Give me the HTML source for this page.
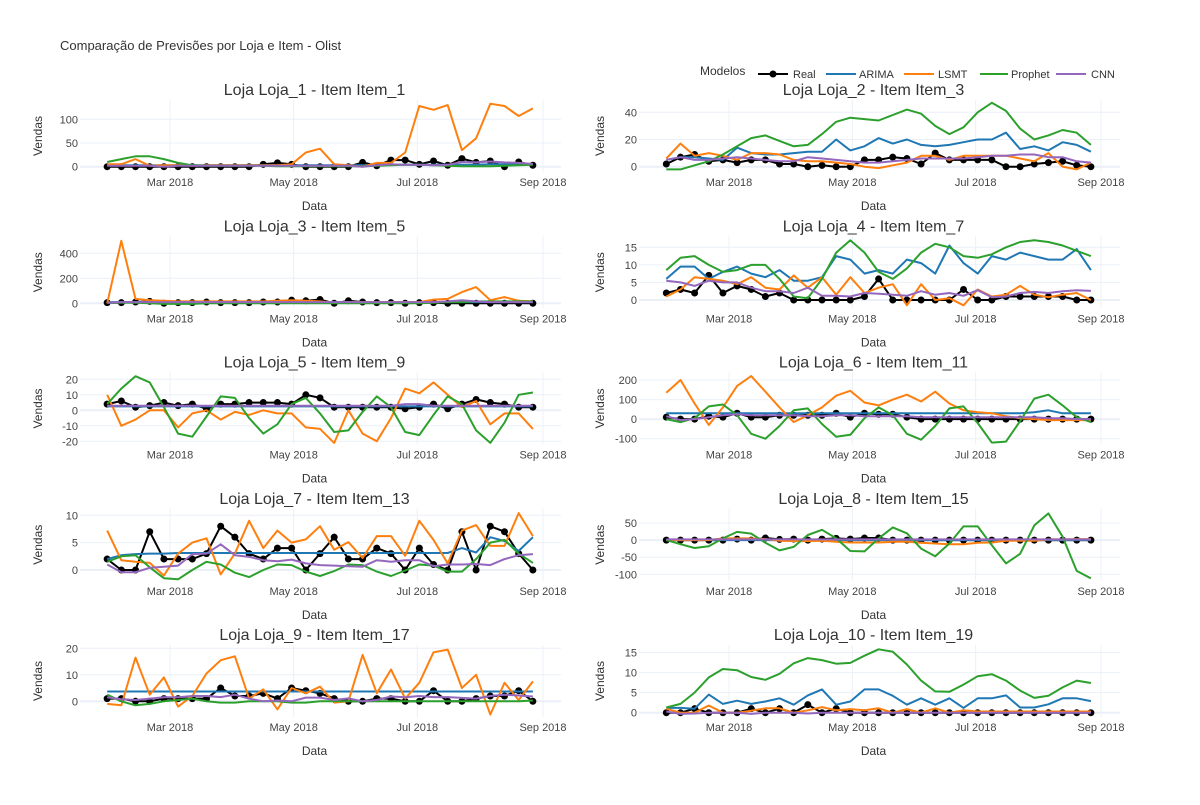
<!DOCTYPE html>
<html><head><meta charset="utf-8">
<style>
body{margin:0;background:#fff;}
svg text{font-family:"Liberation Sans",Arial,sans-serif;}
</style></head>
<body>
<svg id="chart" width="1200" height="800" viewBox="0 0 1200 800" xmlns="http://www.w3.org/2000/svg">
<rect width="1200" height="800" fill="#fff"/>
<text x="60" y="50" font-size="13" fill="#333">Comparação de Previsões por Loja e Item - Olist</text>
<g font-size="11" fill="#333">
<text x="700" y="75" font-size="12">Modelos</text>
<g><line x1="758" y1="74" x2="788" y2="74" stroke="#000" stroke-width="2"/><circle cx="773" cy="74" r="3.5" fill="#000"/><text x="793" y="78">Real</text></g>
<g><line x1="826" y1="74" x2="856" y2="74" stroke="#1f77b4" stroke-width="2"/><text x="859" y="78">ARIMA</text></g>
<g><line x1="904" y1="74" x2="934" y2="74" stroke="#ff7f0e" stroke-width="2"/><text x="938" y="78">LSMT</text></g>
<g><line x1="980" y1="74" x2="1008" y2="74" stroke="#2ca02c" stroke-width="2"/><text x="1011" y="78">Prophet</text></g>
<g><line x1="1056" y1="74" x2="1086" y2="74" stroke="#9467bd" stroke-width="2"/><text x="1091" y="78">CNN</text></g>
</g>
</svg>
<script>
const titles = ["Loja Loja_1 - Item Item_1","Loja Loja_2 - Item Item_3","Loja Loja_3 - Item Item_5","Loja Loja_4 - Item Item_7","Loja Loja_5 - Item Item_9","Loja Loja_6 - Item Item_11","Loja Loja_7 - Item Item_13","Loja Loja_8 - Item Item_15","Loja Loja_9 - Item Item_17","Loja Loja_10 - Item Item_19"];
const seriesNames = ["Real","ARIMA","LSMT","Prophet","CNN"];
const xTickLabels = ["Mar 2018","May 2018","Jul 2018","Sep 2018"];
const yTicks = [[0,50,100],[0,20,40],[0,200,400],[0,5,10,15],[-20,-10,0,10,20],[-100,0,100,200],[0,5,10],[-100,-50,0,50],[0,10,20],[0,5,10,15]];
const c31 = v => Array(31).fill(v);
const real = [
[0,0,0,0,0,0,0,0,0,0,0,5,8,5,0,0,0,0,9,2,14,14,5,12,3,17,9,12,0,10,3],
[2,7,9,4,5,3,5,5,2,2,0,1,0,0,5,5,7,6,2,10,5,5,5,5,0,0,2,3,4,1,0],
[5,5,10,15,0,5,5,10,5,5,5,10,10,25,20,30,0,20,10,5,5,0,5,5,0,0,0,0,0,0,0],
[2,3,2,7,2,4,3,1,2,0,0,0,0,0,1,6,0,0,0,0,0,3,0,0,1,1,1,1,1,0,0],
[4,6,2,3,5,3,4,1,4,4,5,5,5,4,10,8,2,2,2,2,2,1,2,4,1,4,7,5,4,2,2],
[10,0,0,15,10,30,10,10,20,20,20,20,30,10,30,25,25,10,0,0,0,0,0,0,0,0,0,0,0,0,0],
[2,0,0,7,2,2,2,3,8,6,3,2,4,4,0,3,6,2,2,4,3,0,4,1,0,7,0,8,7,3,0],
[0,0,0,0,0,3,0,6,2,3,0,3,5,3,6,6,0,0,0,0,0,0,0,0,0,0,0,0,0,0,0],
[1,1,0,0,1,1,1,1,5,2,2,3,1,5,4,3,1,0,0,1,1,0,0,4,0,0,1,2,2,4,0],
[0,0,1,0,0,0,1,0,1,0,2,0,1,0,0,0,0,0,0,0,0,0,0,0,0,0,0,0,0,0,0]];
const arima = [
[3,3,3,3,3,3,3,3,3,3,3,3,3,3,3,3,3,3,3,3,4,4,4,4,4,4,4,5,5,5,5],
[5,7,7,6,5,14,10,9,9,10,11,11,20,12,15,21,17,20,16,15,16,18,20,20,25,13,15,12,18,16,11],
c31(10),
[6,9.5,9.5,6,8,9.5,7.5,6.5,8.5,5.5,5.5,6.5,12.5,11.5,7.5,8.5,7.5,11.5,10.5,7.5,15.5,10.5,7.5,12.5,11.5,13.5,12.5,11.5,11.5,14.5,8.5],
c31(2.5),
[30,30,30,30,30,30,30,30,30,30,30,30,30,30,30,30,30,30,30,30,30,30,30,30,30,30,35,45,30,30,30],
[2,2.7,2.9,3,3,3.1,3.1,3.1,3.1,3.1,3.1,3.1,3.1,3.1,3.1,3.1,3.1,3.1,3.1,3.1,3.1,3.1,3.1,3.1,3.1,4,3.2,6,5.3,3.5,6],
c31(0),
c31(3.7),
[1.2,1.2,1,4.5,2.2,3,2.2,2.8,3.6,2,4.3,5.8,2,2.8,5.8,5.8,4.2,2,3.6,2,3.6,1.2,3.6,3.6,4.3,1.3,1.3,2.1,3.6,3.6,2.9]];
const lsmt = [
[5,5,16,2,3,3,2,3,3,3,3,3,3,5,30,38,5,3,0,8,8,30,128,120,130,35,60,133,128,107,123],
[6,17,8,10,8,5,10,10,9,5,4,4,3,2,0,-1,1,3,8,8,5,8,8,8,8,6,4,10,0,-2,3],
[0,500,35,25,20,15,15,15,15,15,15,15,20,25,20,15,5,10,10,10,10,10,10,30,35,90,130,25,50,20,15],
[1,3,6.5,6,5.5,4.5,6.5,3.5,3,7,3.5,6.5,1.5,6.5,2,3.5,4.5,-1.5,4.5,0,0.5,-1.5,3,1,1.5,4,1.5,0.8,1.5,2,0],
[10,-10,-6,0,0,-11,-2,0,-6,-1,-3,0,-2,-2,-11,-12,-21,0,-15,-20,-5,14,11,18,10,2,6,-9,-2,-2,-12],
[135,200,80,-30,60,170,220,140,60,-15,20,60,120,145,85,70,100,125,90,140,80,45,35,30,15,5,0,-5,-5,-5,-5],
[7.2,1.8,1.5,1.3,-1,3,5,5.8,-0.8,3,9,4,7.2,5,5.6,8,3.7,5.1,2.2,6.2,6.2,2.6,9,5.5,1.2,7.2,8.2,4.4,4.4,10.4,6.2],
[0,0,0,0,5,5,5,3,-2,-3,-3,-2,-5,-7,-7,-7,-5,-5,-8,-10,-12,-12,-8,-7,-2,-2,-2,2,2,3,3],
[-1,-1.5,16.5,2.5,9,-2,2,10.5,15.5,17,1,4.5,-3,5,3,5.5,-0.5,0,17.5,3,12,1,7,18.5,19.5,5,10,-5,7,0.5,7.5],
[1,0,0,1.8,0,0,0.5,1.1,1.1,0,0.6,1.4,0.6,0.9,0.6,1.1,0,0.9,0,1.1,0,0.6,0.3,0.3,0.3,0.3,0.3,0.3,0.3,0.3,0.3]];
const prophet = [
[10,16,22,22,16,8,3,2,2,2,2,2,1,1,1,1,1,1,1,2,3,4,4,3,2,1,1,1,2,3,4],
[-2,-2,1,4,9,15,21,23,19,15,16,24,33,36,35,34,38,42,39,30,24,29,40,47,41,28,20,23,27,25,16],
[5,5,5,0,-5,-5,-5,0,0,0,0,0,0,0,0,0,0,0,0,0,0,0,0,5,10,10,15,15,15,15,15],
[8.5,12,12.5,10,8,8.5,10,10,6,1,0.5,6,13.5,17,13.5,8,6,9,13.5,16,15,12.5,12,13,15,16.5,17,16.5,15.5,14,12.5],
[4,14,22,18,2,-15,-17,-4,9,8,-5,-15,-9,4,8,-2,-14,-13,-1,9,2,-14,-16,-3,9,4,-13,-21,-8,10,11.5],
[0,-15,5,65,75,20,-75,-100,-35,45,55,-25,-90,-80,5,60,20,-75,-105,-35,55,65,-20,-120,-115,-10,105,125,70,10,-15],
[1.5,2.5,2.7,0.5,-1.5,-1.7,0,1.5,1,-0.5,-1.3,0,1,0.9,-0.3,-1.1,-0.2,1,0.9,-0.3,-1.1,-0.1,1,0.8,-0.3,-0.3,2,5,5.5,3,1.3],
[0,-12,-23,-18,5,24,19,-8,-30,-20,15,30,5,-32,-33,5,37,20,-25,-47,-10,40,40,-15,-68,-40,43,78,10,-90,-112],
[2.5,0,-1.5,-1,0,0.5,1,0,-0.5,-0.5,0,0,0,-0.5,-0.5,0,0,0,0,0,0,0,0,0,0,0,0,0,0,0,0.3],
[1.3,2.2,5,8.8,10.9,10.6,8.9,8.2,9.7,12.3,13.6,13.1,12.2,12.4,14.2,15.8,15.2,12,8,5.3,5.2,7,9.1,9.6,8,5.5,3.7,4.2,6.3,8,7.4]];
const cnn = [
[2,2,2,2,0,2,2,2,2,2,2,2,2,2,2,2,2,2,0,3,5,4,4,3,4,10,9,11,9,8,6],
[5,7,5,5,6,7,6,5,4,4,7,6,5,4,3,3,4,5,6,6,6,6,7,8,8,9,9,7,7,4,3],
[5,10,10,10,10,10,10,10,10,10,10,10,10,10,10,10,10,10,10,10,10,10,10,10,15,25,15,10,10,10,10],
[5.5,5,4,5.5,5,5,3.5,2.5,2.5,2,3.5,1.2,1.2,1,2,1.8,1.5,1.2,2.5,1.5,2,1.2,2.8,0.8,1,2,2.3,2,2.5,2.8,2.6],
[3,3,3,3,3,3,3,3,3,3,3,3,3,3,3,3,3,3,3,3,3,4,4,3,3,3,3,3,3,3,3],
[15,-5,0,10,20,25,20,20,20,20,15,15,20,20,15,15,15,15,10,10,10,10,10,10,10,10,10,5,5,0,0],
[1,-0.4,-0.4,0.4,0.6,0.8,2.9,3,4.7,2.7,2.4,1.8,1.6,1.9,1.2,0.9,0.8,0.7,0.6,1.8,1.5,1.8,1.8,0.7,1,1,1.1,0.9,2,2.7,2.9],
c31(2),
[1.5,0.8,0.5,1,1.5,1.5,2,2,1.6,2.5,1,0,0.3,0,1.4,1.4,0.5,1.1,0,0.5,1.8,1.5,2,1.6,1.6,1.3,1,2,2.5,2.2,1.8],
[0.3,-0.3,-0.2,0,0,0,-0.3,0,0,0,-0.2,0,0,0,0,0,0,0,0,0,0,0,0,0,0,0,0,0,0,0,0]];

const NS="http://www.w3.org/2000/svg";
const svg=document.getElementById('chart');
const colors=["#000","#1f77b4","#ff7f0e","#2ca02c","#9467bd"];
const yCal=[[0,166.7,100,119.3],[0,166.7,40,112.3],[0,303.3,400,253.3],[0,300,15,247.3],[20,379.3,-20,441.3],[200,380,-100,438.7],[10,515.3,0,570],[50,523,-100,574.3],[20,648.3,0,701.3],[15,652.5,0,712.7]];
const DAY=86400000;
const mar1=Date.UTC(2018,2,1), sep1=Date.UTC(2018,8,1);
const tickDates=[Date.UTC(2018,2,1),Date.UTC(2018,4,1),Date.UTC(2018,6,1),Date.UTC(2018,8,1)];
const start=Date.UTC(2018,0,29);
const dates=[];for(let i=0;i<31;i++)dates.push(start+i*7*DAY);
function mk(tag,attrs,parent){const e=document.createElementNS(NS,tag);for(const k in attrs)e.setAttribute(k,attrs[k]);(parent||svg).appendChild(e);return e;}
for(let p=0;p<10;p++){
  const row=Math.floor(p/2), col=p%2;
  const left=col?639:80, right=col?1120:561;
  const top=100+136.25*row, bot=top+72;
  const mx=col?729:170, sx=col?1101:543;
  const xs=t=>mx+(t-mar1)/(sep1-mar1)*(sx-mx);
  const c=yCal[p];
  const ys=v=>c[1]+(v-c[0])/(c[2]-c[0])*(c[3]-c[1]);
  const g=mk('g',{});
  
  
  const cid='clip'+p;
  const cp=mk('clipPath',{id:cid},g);mk('rect',{x:left,y:top,width:right-left,height:bot-top},cp);
  tickDates.forEach((t,i)=>{const x=xs(t);
    mk('line',{x1:x,x2:x,y1:top,y2:bot,stroke:'#ebf0f8','stroke-width':1},g);
    const tx=mk('text',{x:x,y:bot+14,'font-size':11,fill:'#444','text-anchor':'middle'},g);tx.textContent=xTickLabels[i];
    
    });
  yTicks[p].forEach(v=>{const y=ys(v);
    mk('line',{x1:left,x2:right,y1:y,y2:y,stroke:'#ebf0f8','stroke-width':v===0?2:1},g);
    const tx=mk('text',{x:left-2,y:y+4,'font-size':11,fill:'#444','text-anchor':'end'},g);tx.textContent=v;
    
    });
  const cx=(left+right)/2-6;
  const tt=mk('text',{x:cx,y:top-5,'font-size':16,fill:'#333','text-anchor':'middle'},g);tt.textContent=titles[p];
  
  
  const xt=mk('text',{x:cx,y:bot+38,'font-size':12,fill:'#333','text-anchor':'middle'},g);xt.textContent='Data';
  
  
  const yx=col?604:42, yy=(top+bot)/2;
  const yt=mk('text',{x:yx,y:yy,'font-size':12,fill:'#333','text-anchor':'middle',transform:`rotate(-90 ${yx} ${yy})`},g);yt.textContent='Vendas';
  
  
  const data=[real[p],arima[p],lsmt[p],prophet[p],cnn[p]];
  const pg=mk('g',{'clip-path':`url(#${cid})`},g);
  data.forEach((arr,s)=>{
    const pts=arr.map((v,i)=>xs(dates[i]).toFixed(1)+','+ys(v).toFixed(1)).join(' ');
    const pl=mk('polyline',{points:pts,fill:'none',stroke:colors[s],'stroke-width':2,'stroke-linejoin':'round'},pg);
    
    
    if(s===0){arr.forEach((v,i)=>{const m=mk('circle',{cx:xs(dates[i]),cy:ys(v),r:3.5,fill:'#000'},pg);
      
      });}
  });
}
</script>
</body></html>
